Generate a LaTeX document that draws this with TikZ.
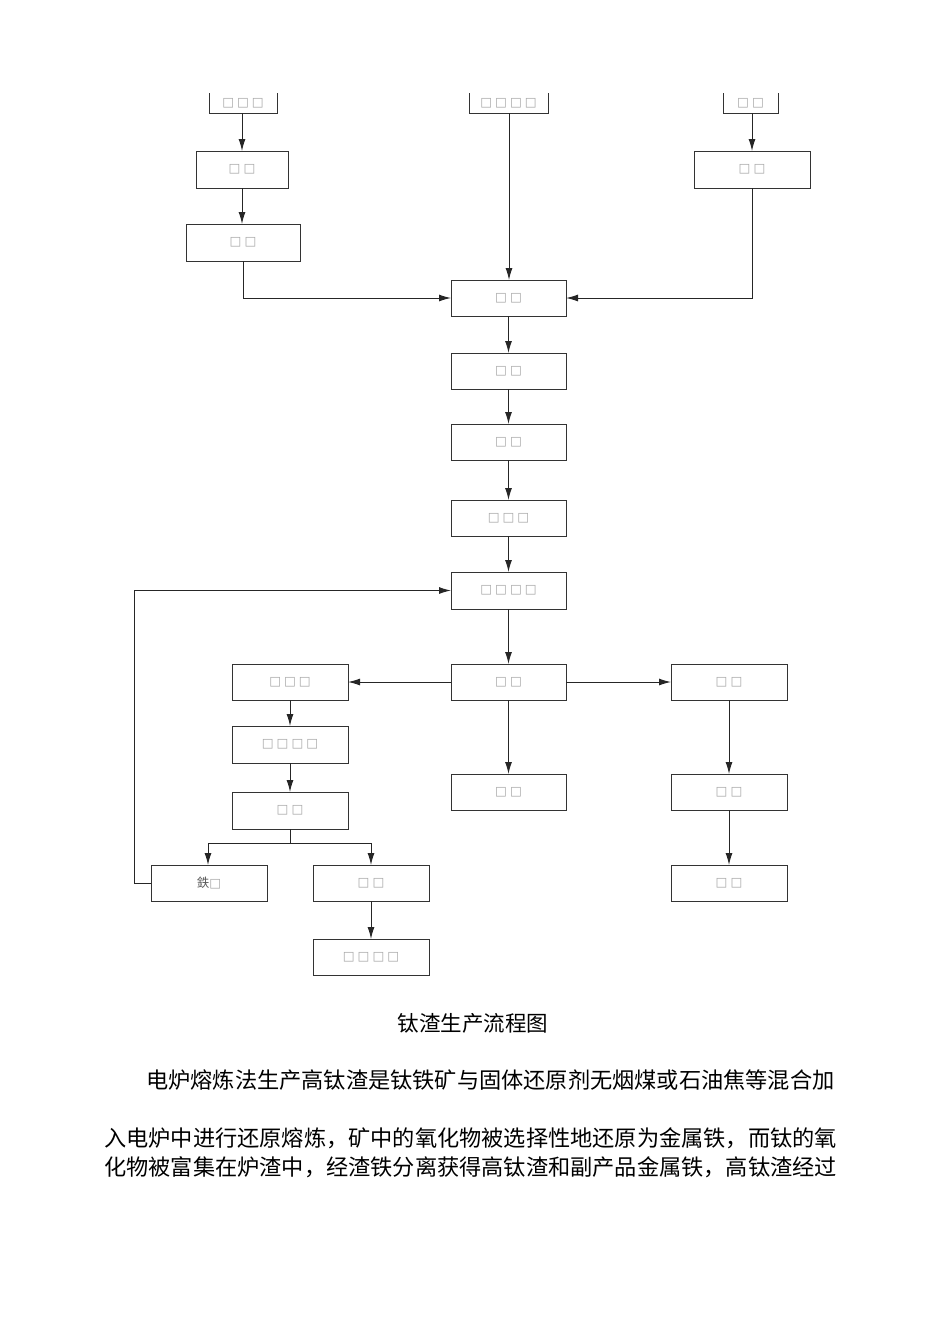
\documentclass[tikz,border=0pt]{standalone}
\usepackage{fontspec}
\newfontfamily\cjk{Noto Sans CJK SC}
\newfontfamily\djv{DejaVu Sans}
\usetikzlibrary{arrows.meta}
\newcommand{\sq}{{\djv\textcolor{gray!70}{□}}}
\newcommand{\sqs}[1]{\foreach \i in {1,...,#1}{\sq\ifnum\i<#1\hspace{3pt}\fi}}
\begin{document}
\begin{tikzpicture}[x=1pt,y=-1pt,
  bx/.style={draw=black!80,line width=1pt},
  ar/.style={draw=black!85,line width=1pt,-{Latex[length=12pt,width=7pt]}},
  ln/.style={draw=black!85,line width=1pt}]
\useasboundingbox (0,0) rectangle (950,1344);
\newcommand{\B}[6]{\draw[bx] (#2,#3) rectangle (#4,#5); \node[font=\fontsize{12.5}{12.5}\selectfont] (#1) at ({(#2+#4)/2},{(#3+#5)/2}) {#6};
 \coordinate (#1n) at ({(#2+#4)/2},#3); \coordinate (#1s) at ({(#2+#4)/2},#5);
 \coordinate (#1w) at (#2,{(#3+#5)/2}); \coordinate (#1e) at (#4,{(#3+#5)/2});}
\draw[bx] (209,93) -- (209,113) -- (277,113) -- (277,93);
\node (t1) at (243,103) {\fontsize{12.5}{12.5}\selectfont\sqs{3}};
\draw[bx] (469,93) -- (469,113) -- (548,113) -- (548,93);
\node (t2) at (508.5,103) {\fontsize{12.5}{12.5}\selectfont\sqs{4}};
\draw[bx] (723,93) -- (723,113) -- (778,113) -- (778,93);
\node (t3) at (750.5,103) {\fontsize{12.5}{12.5}\selectfont\sqs{2}};
\coordinate (t1s) at (242,113); \coordinate (t2s) at (509,113); \coordinate (t3s) at (752,113);
\B{l1}{196}{151}{288}{188}{\sqs{2}}
\B{l2}{186}{224}{300}{261}{\sqs{2}}
\B{r1}{694}{151}{810}{188}{\sqs{2}}
\B{c1}{451}{280}{566}{316}{\sqs{2}}
\B{c2}{451}{353}{566}{389}{\sqs{2}}
\B{c3}{451}{424}{566}{460}{\sqs{2}}
\B{c4}{451}{500}{566}{536}{\sqs{3}}
\B{c5}{451}{572}{566}{609}{\sqs{4}}
\B{c6}{451}{664}{566}{700}{\sqs{2}}
\B{c7}{451}{774}{566}{810}{\sqs{2}}
\B{a1}{232}{664}{348}{700}{\sqs{3}}
\B{a2}{232}{726}{348}{763}{\sqs{4}}
\B{a3}{232}{792}{348}{829}{\sqs{2}}
\B{b1}{151}{865}{267}{901}{{\cjk\textcolor{black!65}{鉄}}\sq}
\B{b2}{313}{865}{429}{901}{\sqs{2}}
\B{b3}{313}{939}{429}{975}{\sqs{4}}
\B{d1}{671}{664}{787}{700}{\sqs{2}}
\B{d2}{671}{774}{787}{810}{\sqs{2}}
\B{d3}{671}{865}{787}{901}{\sqs{2}}
\coordinate (b1t) at (208,865); \coordinate (b2t) at (371,865); \coordinate (b2b) at (371,901);
\coordinate (b3t) at (371,939); \coordinate (fb) at (134,883);
\draw[ar] (t1s) -- (t1s |- l1n);
\draw[ar] (l1s) -- (l1s |- l2n);
\draw[ar] (l2s) |- (c1w);
\draw[ar] (t2s) -- (t2s |- c1n);
\draw[ar] (t3s) -- (t3s |- r1n);
\draw[ar] (r1s) |- (c1e);
\draw[ar] (c1s) -- (c2n);
\draw[ar] (c2s) -- (c3n);
\draw[ar] (c3s) -- (c4n);
\draw[ar] (c4s) -- (c5n);
\draw[ar] (c5s) -- (c6n);
\draw[ar] (c6s) -- (c7n);
\draw[ar] (c6w) -- (a1e);
\draw[ar] (c6e) -- (d1w);
\draw[ar] (a1s) -- (a2n);
\draw[ar] (a2s) -- (a3n);
\coordinate (br) at (290,843);
\draw[ln] (a3s) -- (br);
\draw[ar] (br) -| (b1t);
\draw[ar] (br) -| (b2t);
\draw[ar] (b2b) -- (b3t);
\draw[ar] (b1w) -- (fb) |- (c5w);
\draw[ar] (d1s) -- (d2n);
\draw[ar] (d2s) -- (d3n);
\node[font=\cjk\fontsize{21.5}{21.5}\selectfont] (cap) at (473,1023) {钛渣生产流程图};
\node[font=\cjk\fontsize{22.2}{22.2}\selectfont,anchor=west,inner sep=0pt] (p1) at (146,1080) {电炉熔炼法生产高钛渣是钛铁矿与固体还原剂无烟煤或石油焦等混合加};
\node[font=\cjk\fontsize{22.2}{22.2}\selectfont,anchor=west,inner sep=0pt] (p2) at (104,1138) {入电炉中进行还原熔炼，矿中的氧化物被选择性地还原为金属铁，而钛的氧};
\node[font=\cjk\fontsize{22.2}{22.2}\selectfont,anchor=west,inner sep=0pt] (p3) at (104,1167) {化物被富集在炉渣中，经渣铁分离获得高钛渣和副产品金属铁，高钛渣经过};
\end{tikzpicture}
\end{document}
